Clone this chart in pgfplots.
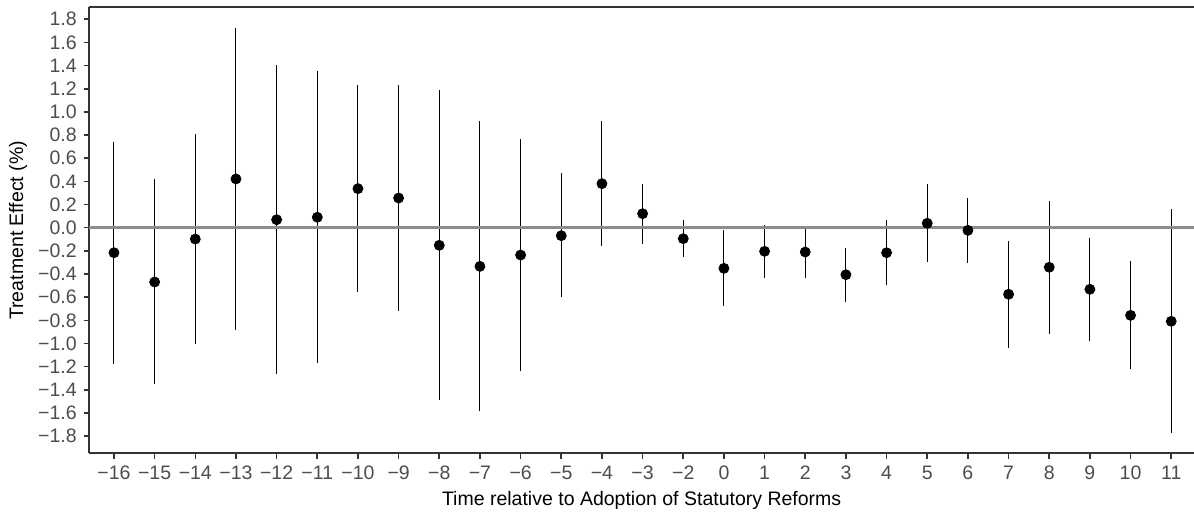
\documentclass[border=0pt]{standalone}
\usepackage{fontspec}
\setmainfont{Liberation Sans}
\usepackage{pgfplots}
\usepackage{pgfplotstable}
\pgfplotsset{compat=1.18}

\definecolor{axisgray}{HTML}{333333}
\definecolor{tickgray}{HTML}{4D4D4D}
\definecolor{zerogray}{HTML}{8C8C8C}

% estimate, lower and upper bound of the interval
\pgfplotstableread{
x y lo hi
0 -0.216 -1.177 0.743
1 -0.469 -1.350 0.418
2 -0.098 -1.002 0.807
3 0.421 -0.883 1.727
4 0.069 -1.263 1.405
5 0.090 -1.171 1.353
6 0.337 -0.553 1.232
7 0.256 -0.717 1.230
8 -0.152 -1.491 1.189
9 -0.334 -1.586 0.919
10 -0.236 -1.240 0.769
11 -0.069 -0.601 0.470
12 0.380 -0.158 0.919
13 0.121 -0.138 0.377
14 -0.095 -0.250 0.066
15 -0.351 -0.676 -0.017
16 -0.204 -0.432 0.021
17 -0.210 -0.432 0.012
18 -0.406 -0.639 -0.173
19 -0.216 -0.495 0.066
20 0.038 -0.299 0.375
21 -0.023 -0.308 0.259
22 -0.575 -1.042 -0.112
23 -0.342 -0.915 0.228
24 -0.532 -0.975 -0.089
25 -0.757 -1.220 -0.288
26 -0.808 -1.776 0.159
}\est

\begin{document}
\begin{tikzpicture}
\begin{axis}[
    scale only axis,
    width=552.35pt, height=223pt,
    xmin=-0.607, xmax=26.56,
    ymin=-1.948, ymax=1.903,
    axis x line*=box, axis y line*=left,
    xtick={0,...,26},
    xticklabels={−16,−15,−14,−13,−12,−11,−10,−9,−8,−7,−6,−5,−4,−3,−2,0,1,2,3,4,5,6,7,8,9,10,11},
    ytick={-1.8,-1.6,-1.4,-1.2,-1.0,-0.8,-0.6,-0.4,-0.2,0,0.2,0.4,0.6,0.8,1.0,1.2,1.4,1.6,1.8},
    yticklabels={−1.8,−1.6,−1.4,−1.2,−1.0,−0.8,−0.6,−0.4,−0.2,0.0,0.2,0.4,0.6,0.8,1.0,1.2,1.4,1.6,1.8},
    axis line style={axisgray, line width=0.8pt, -},
    tick align=outside, tick pos=left,
    major tick length=2.75pt,
    tick style={axisgray, line width=0.8pt},
    ticklabel style={font=\fontsize{9.75}{11}\selectfont, text=tickgray},
    label style={font=\fontsize{9.75}{11}\selectfont, text=black},
    xlabel={Time relative to Adoption of Statutory Reforms},
    ylabel={Treatment Effect (\%)},
    xlabel style={at={(axis description cs:0.5,-0.117)}, anchor=base},
    ylabel style={at={(axis description cs:-0.0645,0.5)}, anchor=center},
    clip=false,
]
    % confidence intervals
    \addplot[only marks, mark=none,
        error bars/.cd, y dir=both, y explicit, error mark=none,
        error bar style={black, line width=0.5pt}]
        table[x=x, y=y,
              y error plus expr=\thisrow{hi}-\thisrow{y},
              y error minus expr=\thisrow{y}-\thisrow{lo}] {\est};
    % zero line
    \addplot[zerogray, line width=1.2pt] coordinates {(-0.607,0) (26.56,0)};
    % point estimates
    \addplot[only marks, mark=*, mark size=2.5pt, black] table[x=x, y=y] {\est};
\end{axis}
\pgfresetboundingbox
\path[use as bounding box] ([xshift=-44.65pt, yshift=-29.85pt]current axis.south west)
    rectangle ([yshift=3.65pt]current axis.north east);
\end{tikzpicture}
\end{document}
